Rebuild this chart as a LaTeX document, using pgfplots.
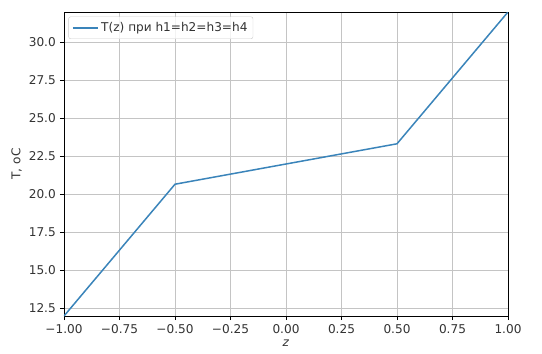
\documentclass[border=0pt]{standalone}
\usepackage{fontspec}
\setmainfont{DejaVu Sans}
\usepackage{pgfplots}
\pgfplotsset{compat=1.18}
\definecolor{mplblue}{HTML}{3A84BA}
\definecolor{mplgrid}{HTML}{C4C4C4}
\begin{document}
\begin{tikzpicture}
\fontsize{12.1}{14}\selectfont
\path[use as bounding box] (-64pt,-38pt) rectangle (478pt,316pt);
\begin{axis}[
  at={(0pt,0pt)}, anchor=south west,
  scale only axis, width=444pt, height=304pt,
  xmin=-1, xmax=1, ymin=12, ymax=32,
  xtick={-1,-0.75,-0.5,-0.25,0,0.25,0.5,0.75,1},
  xticklabels={−1.00,−0.75,−0.50,−0.25,0.00,0.25,0.50,0.75,1.00},
  ytick={12.5,15,17.5,20,22.5,25,27.5,30},
  yticklabels={12.5,15.0,17.5,20.0,22.5,25.0,27.5,30.0},
  tick align=outside, tick pos=left,
  major tick length=4pt,
  tick style={black, line width=0.8pt},
  axis line style={black, line width=0.8pt},
  grid=major, grid style={mplgrid, line width=0.9pt},
  tick label style={font=\fontsize{12.1}{14}\selectfont, text=black!80},
  xlabel={\textit{z}}, ylabel={T, oC},
  label style={font=\fontsize{12.1}{14}\selectfont, text=black!80},
  xlabel style={at={(axis description cs:0.5,0)}, anchor=north, yshift=-20pt},
  ylabel style={at={(axis description cs:0,0.5)}, anchor=south, yshift=38pt},
  legend style={font=\fontsize{12.1}{14}\selectfont, text=black!80, draw=black!20, rounded corners=2pt, fill=white, fill opacity=0.8, text opacity=1, at={(axis description cs:0.01,0.985)}, anchor=north west, inner sep=3.5pt, row sep=0pt},
  legend cell align=left,
  legend image code/.code={\draw[#1] (0cm,0cm) -- (0.9cm,0cm);},
]
\addplot[mplblue, line width=1.5pt] coordinates {(-1,12) (-0.5,20.67) (0.5,23.33) (1,32)};
\addlegendentry{T(z) при h1=h2=h3=h4}
\end{axis}
\end{tikzpicture}
\end{document}
